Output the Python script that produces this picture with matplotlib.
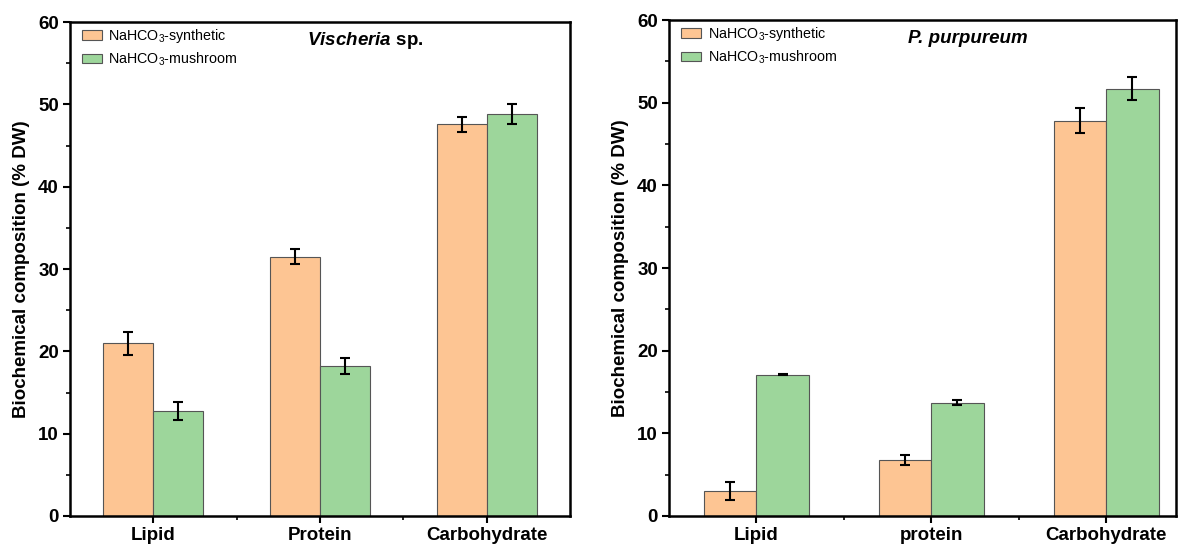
import numpy as np
import matplotlib
matplotlib.use('Agg')
import matplotlib.pyplot as plt
from matplotlib.ticker import MultipleLocator, FixedLocator

plt.rcParams['font.family'] = ['Liberation Sans', 'DejaVu Sans']
plt.rcParams['mathtext.fontset'] = 'custom'
plt.rcParams['mathtext.rm'] = 'Liberation Sans'
plt.rcParams['mathtext.it'] = 'Liberation Sans:italic'
plt.rcParams['mathtext.bfit'] = 'Liberation Sans:italic:bold'

# 数据
labels_left = ['Lipid', 'Protein', 'Carbohydrate']
labels_right = ['Lipid', 'protein', 'Carbohydrate']
series_names = [r'NaHCO$_3$-synthetic', r'NaHCO$_3$-mushroom']
titles = [r'$\mathbfit{Vischeria}$ sp.', 'P. purpureum']

vis_synthetic = [21.0, 31.5, 47.6]
vis_synthetic_err = [1.4, 0.9, 0.9]
vis_mushroom = [12.7, 18.2, 48.8]
vis_mushroom_err = [1.1, 1.0, 1.2]

pur_synthetic = [3.0, 6.8, 47.8]
pur_synthetic_err = [1.1, 0.6, 1.5]
pur_mushroom = [17.1, 13.7, 51.7]
pur_mushroom_err = [0.1, 0.3, 1.4]

colors = ['#FDC593', '#9DD69B']
bar_w = 0.3


def draw_panel(ax, cats, syn, syn_err, mush, mush_err, title, title_style, xmax):
    x = np.arange(1, len(cats) + 1)
    err_kw = dict(ecolor='black', elinewidth=1.5, capsize=3.3, capthick=1.5)
    ax.bar(x - bar_w / 2, syn, bar_w, yerr=syn_err, color=colors[0],
           edgecolor='#555555', linewidth=0.8, error_kw=err_kw, label=series_names[0])
    ax.bar(x + bar_w / 2, mush, bar_w, yerr=mush_err, color=colors[1],
           edgecolor='#555555', linewidth=0.8, error_kw=err_kw, label=series_names[1])

    ax.set_xlim(0.5, xmax)
    ax.set_ylim(0, 60)
    ax.set_xticks(x)
    ax.set_xticklabels(cats, fontsize=13.5, fontweight='bold')
    ax.xaxis.set_minor_locator(FixedLocator([1.5, 2.5]))
    ax.yaxis.set_major_locator(MultipleLocator(10))
    ax.yaxis.set_minor_locator(MultipleLocator(5))
    for lbl in ax.get_yticklabels():
        lbl.set_fontsize(13.5)
        lbl.set_fontweight('bold')
    ax.tick_params(which='major', direction='out', length=5, width=1.5, pad=3)
    ax.tick_params(which='minor', direction='out', length=3, width=1.2)
    for s in ax.spines.values():
        s.set_linewidth(1.8)
    ax.set_ylabel('Biochemical composition (% DW)', fontsize=13.5, fontweight='bold', labelpad=6)

    ax.text(0.59, 0.963, title, transform=ax.transAxes, ha='center', va='center',
            fontsize=13.5, fontweight='bold', style=title_style)

    ax.legend(loc='upper left', bbox_to_anchor=(0.024, 0.99), frameon=False, fontsize=10.3,
              handlelength=1.4, handleheight=0.65, handletextpad=0.45,
              labelspacing=0.4, borderaxespad=0, borderpad=0)


fig = plt.figure(figsize=(11.84, 5.45), dpi=100)
ax1 = fig.add_axes([70 / 1184, 1 - 516 / 545, 500 / 1184, 494 / 545])
ax2 = fig.add_axes([669 / 1184, 1 - 516 / 545, 507 / 1184, 496 / 545])

draw_panel(ax1, labels_left, vis_synthetic, vis_synthetic_err, vis_mushroom, vis_mushroom_err,
           titles[0], 'normal', 3.5)
draw_panel(ax2, labels_right, pur_synthetic, pur_synthetic_err, pur_mushroom, pur_mushroom_err,
           titles[1], 'italic', 3.4)

fig.savefig('out.png', dpi=100)
